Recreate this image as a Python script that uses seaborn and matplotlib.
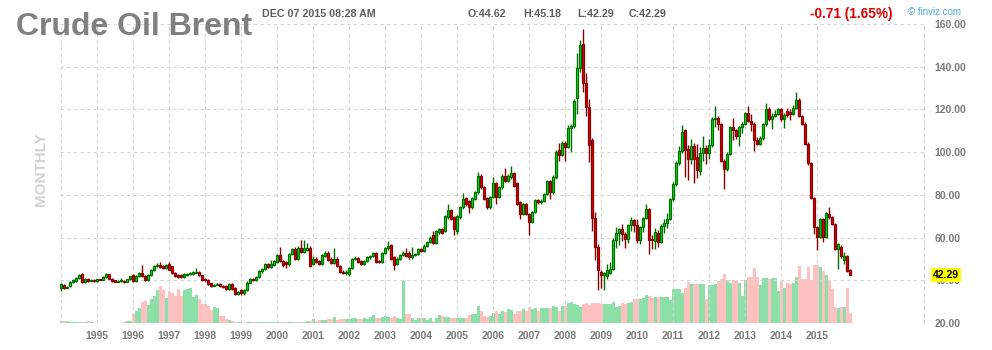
import numpy as np
import pandas as pd
import matplotlib
matplotlib.use("Agg")
import matplotlib.pyplot as plt
import matplotlib.transforms as mtransforms
import seaborn as sns

# ---------------- data (monthly, Jan 1994 .. Dec 2015) ----------------
years = list(range(1994, 2016))

O = {
1994: [36.6, 38.0, 36.6, 37.4, 39.0, 39.8, 40.9, 42.8, 39.2, 40.8, 39.8, 40.3],
1995: [39.6, 40.4, 40.3, 41.6, 42.8, 40.8, 39.9, 39.4, 39.5, 39.7, 39.3, 40.4],
1996: [42.3, 39.7, 42.0, 43.6, 42.0, 40.0, 42.3, 44.7, 46.7, 47.0, 46.6, 45.8],
1997: [47.6, 46.5, 43.6, 42.5, 42.4, 41.6, 42.5, 42.8, 43.0, 43.6, 44.1, 42.3],
1998: [40.8, 40.0, 38.5, 37.5, 38.0, 38.1, 37.4, 37.3, 35.8, 38.2, 36.4, 33.8],
1999: [35.3, 34.2, 35.3, 38.9, 40.5, 40.2, 41.5, 44.3, 45.3, 47.6, 46.2, 47.1],
2000: [48.4, 51.8, 49.1, 48.5, 47.5, 52.2, 54.6, 50.2, 55.3, 53.3, 54.2, 55.3],
2001: [47.6, 50.2, 49.1, 47.6, 51.5, 53.0, 50.2, 48.3, 50.2, 46.8, 44.1, 43.4],
2002: [43.0, 45.6, 49.9, 50.5, 48.8, 47.6, 49.1, 50.7, 51.5, 52.7, 49.0, 48.4],
2003: [52.7, 54.9, 56.4, 51.0, 47.6, 50.2, 51.8, 52.7, 53.0, 50.7, 51.8, 52.4],
2004: [54.6, 53.8, 56.1, 58.0, 61.1, 57.4, 62.5, 63.9, 63.3, 69.5, 73.0, 69.5],
2005: [63.0, 69.5, 74.2, 78.4, 77.0, 74.2, 78.2, 81.2, 89.0, 83.5, 78.5, 74.2],
2006: [78.9, 85.4, 79.2, 83.5, 89.0, 86.4, 88.2, 90.1, 85.4, 76.5, 71.1, 75.8],
2007: [71.1, 67.2, 71.9, 77.6, 76.5, 77.3, 80.4, 86.3, 81.2, 88.2, 101.0, 98.8],
2008: [104.5, 102.5, 111.5, 112.3, 125.2, 139.2, 150.7, 132.5, 121.2, 105.6, 69.2, 55.6],
2009: [43.9, 42.5, 42.0, 43.6, 45.4, 59.0, 62.1, 64.1, 61.8, 59.4, 65.7, 68.0],
2010: [66.1, 59.0, 64.9, 69.2, 73.4, 59.3, 58.4, 62.2, 57.9, 65.6, 66.7, 68.7],
2011: [78.0, 85.0, 95.1, 100.6, 110.2, 101.3, 97.0, 102.9, 97.5, 91.0, 99.8, 102.0],
2012: [99.8, 103.2, 115.6, 116.0, 113.0, 95.9, 92.0, 99.3, 112.0, 110.2, 107.5, 111.7],
2013: [113.3, 118.4, 114.8, 113.3, 105.5, 104.0, 106.5, 113.0, 120.3, 115.3, 116.9, 118.0],
2014: [120.0, 115.3, 119.2, 119.0, 117.8, 120.7, 124.6, 116.9, 113.3, 104.0, 94.7, 78.5],
2015: [64.8, 60.2, 68.7, 60.5, 71.0, 69.5, 66.4, 54.8, 55.8, 49.6, 51.2, 44.62],
}
H = {
1994: [38.6, 38.4, 37.4, 39.8, 40.7, 41.7, 42.9, 43.3, 41.2, 41.2, 40.7, 40.8],
1995: [40.8, 40.8, 42.0, 43.3, 43.1, 41.2, 40.3, 40.1, 41.0, 40.1, 40.8, 42.2],
1996: [43.0, 42.5, 44.1, 47.2, 42.6, 42.8, 45.2, 47.2, 48.0, 48.5, 47.2, 47.7],
1997: [48.4, 46.9, 44.0, 42.9, 42.8, 43.5, 43.5, 43.8, 44.3, 45.6, 44.5, 42.7],
1998: [41.3, 40.4, 38.9, 38.4, 38.5, 38.5, 37.8, 37.7, 38.7, 38.7, 36.8, 35.0],
1999: [35.8, 35.8, 39.5, 41.0, 41.0, 42.2, 45.0, 45.8, 48.1, 48.1, 49.4, 49.6],
2000: [52.4, 55.8, 49.6, 49.0, 52.8, 55.1, 55.8, 55.9, 58.9, 58.9, 57.3, 55.9],
2001: [51.2, 50.7, 49.6, 52.3, 53.6, 53.5, 50.7, 55.0, 50.8, 47.3, 44.6, 45.0],
2002: [46.1, 50.4, 51.6, 51.0, 49.3, 49.6, 51.2, 52.0, 53.2, 53.2, 49.5, 53.2],
2003: [55.4, 58.3, 57.0, 51.5, 50.8, 52.3, 53.5, 55.0, 53.5, 55.5, 53.0, 55.1],
2004: [55.1, 56.8, 58.6, 60.6, 63.1, 63.6, 64.6, 64.5, 70.8, 75.5, 73.6, 70.1],
2005: [70.6, 74.9, 81.1, 79.1, 77.6, 79.2, 81.8, 90.6, 89.6, 84.1, 79.1, 79.5],
2006: [88.2, 86.0, 84.1, 89.6, 92.5, 89.6, 93.3, 90.7, 86.0, 77.1, 76.4, 76.4],
2007: [71.7, 72.5, 78.2, 78.2, 78.0, 81.0, 87.0, 87.0, 89.1, 101.0, 104.5, 105.2],
2008: [105.2, 112.5, 113.0, 125.0, 146.5, 152.5, 157.7, 137.0, 125.0, 106.5, 71.8, 57.0],
2009: [45.0, 44.0, 47.5, 48.5, 59.6, 65.0, 64.7, 66.5, 62.4, 66.3, 69.8, 68.6],
2010: [68.5, 65.5, 69.8, 75.5, 74.0, 61.0, 64.5, 63.5, 66.2, 68.5, 71.5, 78.6],
2011: [85.8, 96.0, 103.0, 112.5, 111.0, 103.5, 106.0, 104.5, 104.0, 102.5, 107.5, 103.5],
2012: [106.0, 116.3, 121.5, 117.0, 113.7, 97.0, 100.0, 112.3, 116.0, 110.8, 112.3, 114.0],
2013: [119.0, 121.5, 118.0, 114.0, 107.0, 107.5, 113.6, 123.0, 121.0, 118.5, 119.5, 120.6],
2014: [120.6, 118.5, 120.5, 120.0, 122.0, 128.2, 125.2, 117.5, 113.9, 104.6, 95.3, 79.1],
2015: [65.4, 69.3, 69.3, 72.0, 74.3, 70.1, 67.0, 57.6, 56.4, 53.3, 51.8, 45.18],
}
L = {
1994: [35.0, 36.0, 36.2, 37.0, 38.6, 39.4, 40.5, 38.7, 38.8, 39.2, 39.5, 39.1],
1995: [39.3, 39.9, 40.0, 41.2, 40.4, 39.3, 39.0, 39.1, 39.2, 38.8, 39.0, 40.1],
1996: [39.2, 39.3, 41.6, 41.5, 39.5, 39.6, 41.9, 44.3, 46.2, 45.6, 45.3, 45.4],
1997: [44.6, 43.1, 41.6, 41.0, 41.2, 41.2, 42.1, 42.4, 42.6, 43.2, 41.9, 39.8],
1998: [39.6, 37.7, 37.0, 37.1, 37.6, 37.0, 36.5, 35.4, 35.4, 35.4, 33.3, 33.0],
1999: [33.2, 33.0, 34.9, 38.5, 39.7, 39.8, 41.1, 43.6, 44.9, 45.7, 45.8, 46.7],
2000: [47.9, 48.6, 46.4, 45.7, 46.9, 51.7, 49.6, 49.7, 52.8, 52.8, 53.7, 46.2],
2001: [47.0, 47.9, 47.0, 47.1, 51.0, 49.1, 47.5, 47.8, 46.2, 43.2, 42.8, 42.6],
2002: [41.8, 45.1, 49.4, 47.9, 47.1, 47.1, 48.6, 50.2, 51.0, 48.2, 47.9, 47.9],
2003: [52.2, 54.4, 49.6, 45.0, 47.1, 49.7, 51.3, 51.0, 50.2, 50.2, 51.3, 51.9],
2004: [53.2, 53.2, 55.5, 57.4, 56.8, 56.8, 61.9, 61.7, 62.6, 68.9, 68.2, 61.0],
2005: [61.6, 68.9, 73.6, 74.9, 71.5, 73.6, 77.6, 80.6, 82.9, 77.5, 73.6, 73.6],
2006: [78.3, 75.8, 78.6, 82.9, 86.1, 85.8, 87.6, 83.7, 75.2, 68.6, 70.5, 70.5],
2007: [61.0, 66.6, 71.3, 75.9, 75.9, 76.7, 79.8, 78.0, 80.6, 87.6, 96.0, 98.2],
2008: [96.0, 101.8, 100.3, 111.5, 118.0, 137.5, 128.0, 117.0, 95.3, 63.1, 49.5, 35.4],
2009: [36.5, 35.5, 40.8, 42.8, 44.8, 55.0, 56.5, 58.5, 55.0, 57.5, 63.0, 62.5],
2010: [57.5, 57.0, 62.5, 68.6, 52.4, 54.5, 54.8, 55.6, 57.3, 62.0, 64.5, 68.1],
2011: [77.2, 84.0, 94.0, 99.8, 88.5, 87.0, 94.5, 85.4, 88.0, 89.5, 96.0, 94.3],
2012: [97.0, 102.5, 112.0, 110.5, 95.2, 82.7, 91.4, 98.6, 105.5, 106.0, 103.0, 109.0],
2013: [112.7, 114.2, 110.0, 100.6, 103.4, 103.4, 105.9, 112.4, 114.7, 110.7, 116.3, 117.4],
2014: [114.7, 111.4, 116.5, 115.0, 117.2, 120.1, 116.3, 112.7, 103.4, 94.1, 77.9, 61.5],
2015: [54.0, 59.6, 58.0, 59.9, 68.9, 65.8, 54.2, 45.3, 50.6, 47.5, 43.7, 42.29],
}
C = {
1994: [38.1, 36.6, 36.9, 39.4, 40.3, 41.3, 42.3, 39.2, 40.8, 39.7, 40.2, 39.6],
1995: [40.4, 40.3, 41.6, 42.8, 40.8, 39.7, 39.4, 39.6, 39.7, 39.3, 40.4, 41.8],
1996: [39.7, 42.0, 43.6, 42.0, 40.0, 42.3, 44.7, 46.7, 47.2, 46.0, 45.8, 47.2],
1997: [45.0, 43.6, 42.0, 41.5, 41.6, 43.1, 43.1, 43.4, 43.9, 44.1, 42.3, 40.2],
1998: [40.0, 38.1, 37.4, 38.0, 38.1, 37.4, 36.9, 35.8, 38.2, 35.8, 33.8, 34.6],
1999: [34.1, 35.3, 38.9, 40.5, 40.2, 41.7, 44.5, 45.3, 47.6, 46.2, 47.8, 49.1],
2000: [51.8, 49.1, 47.1, 47.5, 52.2, 54.6, 50.2, 55.3, 53.3, 54.9, 55.3, 46.8],
2001: [50.2, 48.4, 47.6, 51.8, 53.0, 49.6, 48.0, 50.2, 46.8, 43.7, 43.4, 43.8],
2002: [45.6, 49.9, 50.5, 48.4, 47.6, 49.1, 50.7, 51.5, 52.7, 48.7, 48.4, 52.7],
2003: [54.9, 56.1, 50.2, 47.1, 50.2, 51.8, 53.0, 51.5, 50.7, 52.0, 52.4, 54.6],
2004: [53.8, 56.1, 58.0, 60.0, 57.4, 63.1, 63.9, 62.3, 70.2, 72.8, 68.8, 64.1],
2005: [69.9, 74.2, 78.1, 75.5, 74.2, 78.6, 81.2, 89.0, 83.5, 78.1, 74.2, 78.9],
2006: [85.4, 78.9, 83.5, 89.0, 86.7, 89.0, 90.1, 84.3, 75.8, 71.1, 75.8, 71.1],
2007: [67.2, 71.9, 77.6, 76.5, 77.3, 80.4, 86.3, 81.2, 88.5, 100.3, 98.8, 104.5],
2008: [102.5, 111.5, 112.3, 124.0, 139.2, 150.1, 132.5, 121.2, 103.5, 69.2, 55.6, 44.7],
2009: [42.3, 43.4, 45.0, 45.4, 59.0, 62.1, 64.1, 61.5, 59.4, 65.7, 68.0, 66.1],
2010: [59.0, 64.9, 69.2, 73.4, 58.7, 58.8, 62.5, 57.9, 65.6, 66.7, 68.7, 78.0],
2011: [85.0, 95.1, 100.6, 109.6, 101.0, 97.0, 102.9, 96.7, 91.6, 99.8, 102.0, 99.8],
2012: [103.2, 115.6, 116.0, 113.0, 95.9, 92.0, 99.3, 111.7, 110.2, 107.5, 111.7, 113.3],
2013: [118.4, 114.8, 113.3, 105.5, 104.0, 106.5, 113.0, 120.3, 115.3, 116.9, 118.0, 120.0],
2014: [115.3, 117.6, 117.6, 117.8, 120.7, 124.6, 116.9, 113.3, 104.0, 94.7, 78.5, 64.8],
2015: [60.2, 68.7, 60.5, 71.4, 69.5, 66.4, 54.8, 57.0, 51.2, 51.2, 44.3, 42.29],
}
# volume (relative units, unlabeled axis)
V = {
1994: [2.5, 2.5, 2.3, 1.5, 1.5, 1.5, 1.5, 1.5, 1.5, 2.5, 1.0, 0.5],
1995: [0.3, 0.3, 0.3, 0.3, 0.3, 0.3, 0.3, 0.3, 0.5, 1.0, 2.5, 2.5],
1996: [9, 12, 15, 21, 22, 18, 24, 27, 33, 37, 33, 25],
1997: [32, 30, 27, 34, 27, 33, 34, 35, 26, 28, 24, 19],
1998: [19, 17, 13, 16, 15, 7, 7, 4, 3, 2, 1.5, 1],
1999: [0.7, 0.5, 1, 1.3, 1, 0.8, 1, 1.2, 1, 1, 1, 1.2],
2000: [1, 1, 1.2, 1, 1, 0.8, 1, 1.2, 1, 1.5, 1.8, 2],
2001: [4.5, 2.5, 3, 3.5, 3.5, 4.5, 4.5, 6.5, 3.5, 4.5, 4, 4],
2002: [4.5, 5, 5, 4.5, 4.5, 5, 4.5, 6, 8.5, 5, 5, 6.5],
2003: [7.5, 6, 5, 7, 5.5, 4, 42, 9.5, 9.5, 5, 3.5, 5.5],
2004: [5.5, 5.5, 3.5, 5, 2.5, 5, 8.5, 7.5, 6.5, 6.5, 5, 5],
2005: [5.5, 5.5, 5, 5.5, 8.5, 9.5, 9.5, 17, 12.5, 7.5, 6.5, 7.5],
2006: [10.5, 12.5, 9, 12.5, 11.5, 14, 13, 9.5, 12, 12.5, 14, 12.5],
2007: [16.5, 14.5, 15, 12.5, 15.5, 15.5, 15.5, 15.5, 17.5, 16, 12.5, 17.5],
2008: [17.5, 20, 21.5, 19.5, 18.5, 16.5, 19.5, 20, 18.5, 20, 20, 20.5],
2009: [19.5, 19.5, 19.5, 19.5, 21.5, 16.5, 17, 20.5, 19.5, 20.5, 21.5, 24],
2010: [24, 24, 25, 28.5, 27.5, 25, 26, 26, 26.5, 26, 26, 23.5],
2011: [34, 34, 34, 30.5, 35, 41.5, 39, 39.5, 39.5, 39.5, 39.5, 24],
2012: [38, 38, 39, 42, 44, 49, 43, 40, 43, 43, 40, 27],
2013: [43, 46, 46, 55, 46, 38, 45, 45, 44, 45, 45, 32],
2014: [42, 35, 40, 39, 40, 46, 57, 44, 44, 56, 43, 58],
2015: [58, 56, 52, 48, 42, 34, 16.5, 15, 16.5, 16, 35, 10.5],
}
year_labels = [str(y) for y in years]
price_ticks = [20, 40, 60, 80, 100, 120, 140, 160]
last_price = 42.29

opens = np.array([v for y in years for v in O[y]])
highs = np.array([v for y in years for v in H[y]])
lows = np.array([v for y in years for v in L[y]])
closes = np.array([v for y in years for v in C[y]])
vols = np.array([v for y in years for v in V[y]])
idx = np.arange(len(closes))
up = closes >= opens

df = pd.DataFrame({"m": idx, "vol": vols, "dir": np.where(up, "up", "down")})

# ---------------- style ----------------
sns.set_style("white")
plt.rcParams["font.family"] = ["Liberation Sans", "DejaVu Sans"]

W, Hh = 992, 350
fig = plt.figure(figsize=(W / 100, Hh / 100), dpi=100)
rect = [60 / W, 27 / Hh, 864 / W, 299 / Hh]
xlim = (-1 / 3, (924 - 61) / 3)

# volume axes (behind)
axv = fig.add_axes(rect)
sns.barplot(data=df, x="m", y="vol", hue="dir",
            palette={"up": "#8ddfa8", "down": "#ffc0c0"},
            native_scale=True, width=1.0, dodge=False, legend=False,
            errorbar=None, saturation=1, linewidth=0, ax=axv)
axv.set_xlim(*xlim)
axv.set_ylim(0, 299)
axv.axis("off")

# price axes (front)
ax = fig.add_axes(rect)
ax.patch.set_alpha(0)
ax.set_xlim(*xlim)
ax.set_ylim(20, 160)
ax.set_axisbelow(True)

grid_kw = dict(color="#d4d4d4", linestyle=(0, (3, 3)), linewidth=0.8)
ax.grid(True, **grid_kw)
for s in ["top", "left", "bottom"]:
    ax.spines[s].set_visible(False)
ax.spines["right"].set_color("#d4d4d4")
ax.spines["right"].set_linestyle((0, (3, 3)))
ax.spines["right"].set_linewidth(0.8)

up_fill, up_edge = "#00e400", "#006c00"
dn_fill, dn_edge = "#e80000", "#870000"
edge = np.where(up, up_edge, dn_edge)
fill = np.where(up, up_fill, dn_fill)

ax.vlines(idx, lows, highs, colors=edge, linewidth=1.0, zorder=3)
body_lo = np.minimum(opens, closes)
body_h = np.maximum(np.abs(closes - opens), 0.4)
ax.bar(idx, body_h, bottom=body_lo, width=0.72, color=fill,
       edgecolor=edge, linewidth=0.85, zorder=4)

xt = idx[::12]
ax.set_xticks(xt)
ax.set_xticklabels([""] + year_labels[1:])
ax.yaxis.tick_right()
ax.set_yticks(price_ticks)
ax.set_yticklabels([f"{t:.2f}" for t in price_ticks])
ax.tick_params(axis="both", length=0, labelsize=7.5, labelcolor="#7a7a7a")
ax.tick_params(axis="x", pad=6)
ax.tick_params(axis="y", pad=7.5)
for lab in ax.get_xticklabels() + ax.get_yticklabels():
    lab.set_fontweight("bold")

# last price marker
trans = mtransforms.blended_transform_factory(ax.transAxes, ax.transData)
ax.text((933 - 60) / 864, last_price, f"{last_price:.2f}", transform=trans,
        ha="left", va="center", fontsize=7.5, fontweight="bold", color="#000000",
        bbox=dict(boxstyle="square,pad=0.2", fc="#ffff00", ec="none"), zorder=10,
        clip_on=False)

# header texts
def fx(px):
    return px / W

def fy(py):
    return 1 - py / Hh

fig.text(fx(16), fy(35), "Crude Oil Brent", fontsize=23, fontweight="bold",
         color="#808080", ha="left", va="baseline")
hdr = dict(fontsize=7.7, fontweight="bold", color="#5c5c5c", ha="left", va="center")
fig.text(fx(262), fy(14), "DEC 07 2015 08:28 AM", **hdr)
fig.text(fx(468), fy(14), "O:44.62", **hdr)
fig.text(fx(523), fy(14), "H:45.18", **hdr)
fig.text(fx(577), fy(14), "L:42.29", **hdr)
fig.text(fx(629), fy(14), "C:42.29", **hdr)
fig.text(fx(810), fy(14), "-0.71 (1.65%)", fontsize=9.8, fontweight="bold",
         color="#e00000", ha="left", va="center")
fig.text(fx(908), fy(12), "© finviz.com", fontsize=7, color="#4aa8dc",
         ha="left", va="center")
fig.text(fx(41), fy(169), "MONTHLY", fontsize=11, fontweight="bold",
         color="#d2d2d2", rotation=90, ha="center", va="center")

fig.savefig("out.png", dpi=100)
